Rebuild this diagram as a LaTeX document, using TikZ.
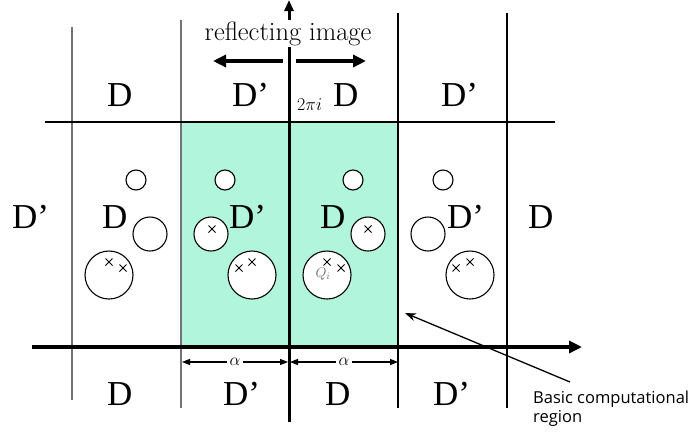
\RequirePackage{fix-cm}
\documentclass[tikz,border=0pt]{standalone}
\usepackage{fontspec}
\newfontfamily\tnr{Liberation Serif}
\newfontfamily\osans{Open Sans}
\usetikzlibrary{arrows.meta}
\definecolor{regiongreen}{RGB}{176,245,220}
\definecolor{gridgray}{RGB}{115,115,115}
\begin{document}
\begin{tikzpicture}[x=1pt,y=-1pt,
  dlab/.style={font=\tnr\fontsize{35}{35}\selectfont, anchor=base west, inner sep=0pt},
  grayline/.style={draw=gridgray, line width=1.3pt},
  blackline/.style={draw=black, line width=1.1pt},
  hole/.style={draw=black, line width=1.1pt, fill=white},
  axis/.style={draw=black, line width=3.5pt},
  bigtip/.style={-{Triangle[length=13pt,width=12pt]}},
  dimtip/.style={{Triangle[length=8pt,width=6pt]}-{Triangle[length=8pt,width=6pt]}},
  crossmark/.style={draw=black, line width=0.8pt}]
\useasboundingbox (0,0) rectangle (695,434);
% basic computational region
\fill[regiongreen] (181,122) rectangle (398,347);
% grid lines
\draw[grayline] (72,27) -- (72,400);
\draw[grayline] (181,20) -- (181,408);
\draw[blackline] (398,13) -- (398,408);
\draw[blackline] (507,13) -- (507,408);
\draw[blackline] (45,122) -- (555,122);
% axes
\coordinate (xs) at (32,347);
\coordinate (xe) at (582,347);
\coordinate (ys) at (289,422);
\coordinate (ye) at (289,0);
\draw[axis, bigtip] (xs) -- (xe);
\draw[line width=3pt, -{Triangle[length=11pt,width=9pt]}] (ys) -- (ye);
% reflecting image
\node[fill=white, inner sep=1.5pt, font=\fontsize{26.5}{26.5}\selectfont, anchor=base] (refl) at (288,40) {reflecting image};
\coordinate (la) at (283,61); \coordinate (lb) at (213,61);
\coordinate (ra) at (296,61); \coordinate (rb) at (366,61);
\draw[line width=4.5pt, bigtip] (la) -- (lb);
\draw[line width=4.5pt, bigtip] (ra) -- (rb);
% holes
\foreach \cx/\cy/\r [count=\k] in {136/180/10, 150/234/17, 109/275/24,
  225/180/10, 211/234/17, 252/275/24,
  353/180/10, 368/234/17, 327/275/24,
  443/180/10, 428/234/17, 470/275/24}
  \node[hole, circle, minimum size=2*\r pt, inner sep=0pt] (h\k) at (\cx,\cy) {};
% crosses
\foreach \cx/\cy in {109/262, 123/268, 212/229, 239/268, 252/262,
  368/229, 327/262, 341/268, 456/268, 470/262}
  \draw[crossmark] (\cx-3.5,\cy-3.5) -- (\cx+3.5,\cy+3.5) (\cx-3.5,\cy+3.5) -- (\cx+3.5,\cy-3.5);
\node[text=gray!85!black, font=\fontsize{14}{14}\selectfont, inner sep=0pt] (qi) at (323,274) {$Q_i$};
% labels top row
\node[dlab] (t1) at (107,106) {D};
\node[dlab] (t2) at (232,106) {D’};
\node[dlab] (t3) at (333,106) {D};
\node[dlab] (t4) at (441,106) {D’};
\node[anchor=base west, inner sep=0pt, font=\fontsize{18}{18}\selectfont] (tpi) at (297,110) {$2\pi i$};
% middle row
\node[dlab] (m0) at (12,228) {D’};
\node[dlab] (m1) at (102,228) {D};
\node[dlab] (m2) at (229,228) {D’};
\node[dlab] (m3) at (320,228) {D};
\node[dlab] (m4) at (447,228) {D’};
\node[dlab] (m5) at (528,228) {D};
% bottom row
\node[dlab] (b1) at (107,405) {D};
\node[dlab] (b2) at (223,405) {D’};
\node[dlab] (b3) at (325,405) {D};
\node[dlab] (b4) at (433,405) {D’};
% alpha dimensions
\coordinate (a1) at (182,362); \coordinate (a2) at (288,362);
\coordinate (a3) at (290,362); \coordinate (a4) at (398,362);
\draw[line width=1.1pt, dimtip] (a1) -- (a2)
  node[midway, fill=white, inner sep=2.5pt, font=\fontsize{17}{17}\selectfont] (al1) {$\alpha$};
\draw[line width=1.1pt, dimtip] (a3) -- (a4)
  node[midway, fill=white, inner sep=2.5pt, font=\fontsize{17}{17}\selectfont] (al2) {$\alpha$};
% pointer
\node[anchor=base west, inner sep=0pt, font=\osans\fontsize{16.5}{16.5}\selectfont] (bcr) at (533,403) {Basic computational};
\node[anchor=base west, inner sep=0pt, font=\osans\fontsize{16.5}{16.5}\selectfont] (bcr2) at (533,422) {region};
\coordinate (ps) at (570,382);
\coordinate (pe) at (405,313);
\draw[line width=1.3pt, -{Stealth[length=11pt,width=8pt]}] (ps) -- (pe);
\end{tikzpicture}
\end{document}
